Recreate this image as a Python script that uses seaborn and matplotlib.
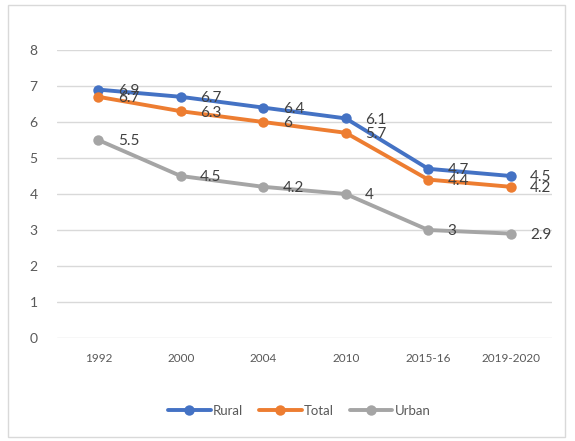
import matplotlib
matplotlib.use("Agg")
import matplotlib.pyplot as plt
import seaborn as sns
import pandas as pd
from matplotlib.patches import Rectangle

years = ["1992", "2000", "2004", "2010", "2015-16", "2019-2020"]
rural = [6.9, 6.7, 6.4, 6.1, 4.7, 4.5]
total = [6.7, 6.3, 6.0, 5.7, 4.4, 4.2]
urban = [5.5, 4.5, 4.2, 4.0, 3.0, 2.9]
series_names = ["Rural", "Total", "Urban"]
colors = ["#4472C4", "#ED7D31", "#A5A5A5"]

df = pd.DataFrame({
    "year": years * 3,
    "value": rural + total + urban,
    "series": ["Rural"] * 6 + ["Total"] * 6 + ["Urban"] * 6,
})

sns.set_theme(style="white")
plt.rcParams['font.family'] = ['Lato', 'DejaVu Sans']

fig = plt.figure(figsize=(5.75, 4.41), dpi=100)
ax = fig.add_axes([57/575, 1-338/441, (552-57)/575, (338-50)/441])

sns.lineplot(data=df, x="year", y="value", hue="series", hue_order=series_names,
             palette=colors, marker="o", markersize=7.5, markeredgewidth=0,
             linewidth=2.8, ax=ax, sort=False)

ax.set_ylim(0, 8)
ax.set_xlim(-0.5, 5.5)
ax.set_yticks(range(0, 9))
ax.grid(axis="y", color="#d9d9d9", linewidth=1)
ax.set_axisbelow(True)
for s in ax.spines.values():
    s.set_visible(False)
ax.set_xlabel("")
ax.set_ylabel("")
ax.tick_params(axis="y", labelsize=10, labelcolor="#595959", length=0, pad=14)
ax.tick_params(axis="x", labelsize=8.5, labelcolor="#595959", length=0, pad=11)

for vals in (rural, total, urban):
    for i, v in enumerate(vals):
        ax.annotate(f"{v:g}", (i, v), xytext=(14, -1), textcoords="offset points",
                    ha="left", va="center", fontsize=11, color="#404040")

leg = ax.legend(loc="upper center", bbox_to_anchor=(0.49, -0.19), ncol=3,
                frameon=False, fontsize=9.5, handlelength=3.2, columnspacing=1.2,
                handletextpad=0.2, labelcolor="#595959")

fig.patches.append(Rectangle((8/575, 4/441), (565-8)/575, (436-4)/441,
                             transform=fig.transFigure, fill=False,
                             edgecolor="#d9d9d9", linewidth=1))

fig.savefig("out.png", dpi=100)
